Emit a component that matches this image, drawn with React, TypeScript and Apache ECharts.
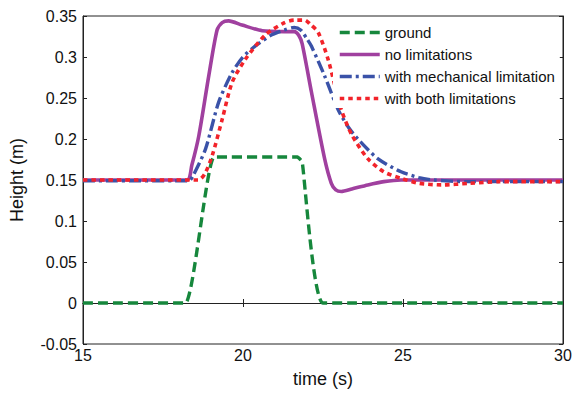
import React, { useEffect, useRef } from "react";
import * as echarts from "echarts";

const seriesNames = ["ground", "no limitations", "with mechanical limitation", "with both limitations"];

const ground: [number, number][] = [
  [15, 0], [18.2, 0], [19.1, 0.178], [21.7, 0.178], [21.85, 0.172], [22.5, 0], [30, 0],
];

const noLimitations: [number, number][] = [
  [15, 0.15], [18.25, 0.15], [18.4, 0.168], [18.62, 0.204], [18.93, 0.277], [19.19, 0.333],
  [19.35, 0.342], [19.55, 0.344], [19.97, 0.339], [20.6, 0.332], [21.3, 0.331], [21.6, 0.331],
  [21.75, 0.326], [21.85, 0.316], [22.14, 0.257], [22.55, 0.176], [22.76, 0.146], [22.9, 0.138],
  [23.07, 0.136], [23.4, 0.139], [23.9, 0.144], [24.4, 0.148], [24.94, 0.15], [26, 0.15], [30, 0.15],
];

const mechanical: [number, number][] = [
  [15, 0.149], [18.3, 0.149], [18.45, 0.156], [18.83, 0.188], [19.24, 0.245], [19.66, 0.281],
  [20.0, 0.3], [20.37, 0.313], [20.9, 0.327], [21.3, 0.333], [21.6, 0.336], [21.8, 0.333],
  [22.0, 0.322], [22.14, 0.313], [22.55, 0.277], [22.97, 0.236], [23.3, 0.214], [23.59, 0.2],
  [24.21, 0.176], [24.94, 0.16], [25.5, 0.153], [25.96, 0.15], [27, 0.148], [30, 0.148],
];

const bothLimitations: [number, number][] = [
  [15, 0.15], [18.6, 0.15], [18.8, 0.157], [19.04, 0.18], [19.35, 0.224], [19.66, 0.269],
  [20.07, 0.297], [20.7, 0.327], [21.3, 0.342], [21.6, 0.345], [21.93, 0.345], [22.1, 0.34],
  [22.35, 0.33], [22.66, 0.297], [23.07, 0.236], [23.4, 0.205], [23.9, 0.176], [24.4, 0.16],
  [24.94, 0.152], [25.5, 0.146], [26.2, 0.144], [27.1, 0.146], [28, 0.148], [30, 0.148],
];

const xTicks = [15, 20, 25, 30];
const yTicks = [-0.05, 0, 0.05, 0.1, 0.15, 0.2, 0.25, 0.3, 0.35];

const FONT = "'Liberation Sans', Arial, sans-serif";

export default function App() {
  const ref = useRef<HTMLDivElement>(null);
  useEffect(() => {
    if (!ref.current) return;
    const chart = echarts.init(ref.current, undefined, { renderer: "svg" });
    const fmtY = (v: number) => {
      const r = Math.round(v * 100) / 100;
      return yTicks.some((t) => Math.abs(t - r) < 1e-9) ? String(r) : "";
    };
    const fmtX = (v: number) => (xTicks.includes(Math.round(v)) ? String(Math.round(v)) : "");
    const common = {
      type: "line",
      symbol: "none",
      smooth: 0.25,
      z: 3,
    };
    const frameAxis = {
      axisLine: { show: true, lineStyle: { color: "#222" } },
      axisTick: { show: true, inside: true, length: 4, lineStyle: { color: "#222" } },
      splitLine: { show: false },
    };
    chart.setOption({
      animation: false,
      backgroundColor: "#fff",
      textStyle: { fontFamily: FONT },
      grid: { left: 80, right: 15, top: 16, bottom: 46, show: true, borderColor: "#222", borderWidth: 1 },
      legend: {
        orient: "vertical",
        left: 333,
        top: 23,
        padding: [2, 5, 2, 5],
        itemWidth: 40,
        itemHeight: 14,
        itemGap: 7,
        backgroundColor: "#fff",
        itemStyle: { opacity: 0 },
        lineStyle: { width: 3.5 },
        textStyle: { fontSize: 15, color: "#111", fontFamily: FONT },
        data: seriesNames,
      },
      xAxis: [
        {
          type: "value",
          min: 15,
          max: 30,
          interval: 5,
          name: "time (s)",
          nameLocation: "middle",
          nameGap: 26,
          nameTextStyle: { fontSize: 18, color: "#111", fontFamily: FONT },
          axisLabel: { fontSize: 16, color: "#111", margin: 3, fontFamily: FONT, formatter: fmtX },
          ...frameAxis,
        },
        {
          type: "value",
          position: "top",
          min: 15,
          max: 30,
          interval: 5,
          axisLabel: { show: false },
          ...frameAxis,
        },
      ],
      yAxis: [
        {
          type: "value",
          min: -0.05,
          max: 0.35,
          interval: 0.05,
          name: "Height (m)",
          nameLocation: "middle",
          nameGap: 57,
          nameTextStyle: { fontSize: 18, color: "#111", fontFamily: FONT },
          axisLabel: { fontSize: 16, color: "#111", margin: 6, fontFamily: FONT, formatter: fmtY },
          ...frameAxis,
        },
        {
          type: "value",
          position: "right",
          min: -0.05,
          max: 0.35,
          interval: 0.05,
          axisLabel: { show: false },
          ...frameAxis,
        },
      ],
      series: [
        {
          ...common,
          name: seriesNames[0],
          data: ground,
          smooth: 0.1,
          color: "#16873c",
          lineStyle: { color: "#16873c", width: 3.4, type: [10, 5] },
        },
        {
          ...common,
          name: seriesNames[1],
          data: noLimitations,
          color: "#a0409f",
          lineStyle: { color: "#a0409f", width: 3.6, type: "solid" },
        },
        {
          ...common,
          name: seriesNames[2],
          data: mechanical,
          color: "#3a52a8",
          lineStyle: { color: "#3a52a8", width: 3.4, type: [12, 4, 3, 4] },
        },
        {
          ...common,
          name: seriesNames[3],
          data: bothLimitations,
          color: "#f2232a",
          lineStyle: { color: "#f2232a", width: 3.6, type: [4.5, 4] },
        },
      ],
    });
    return () => chart.dispose();
  }, []);
  return <div ref={ref} style={{ position: "fixed", left: 0, top: 0, width: 578, height: 393 }} />;
}
